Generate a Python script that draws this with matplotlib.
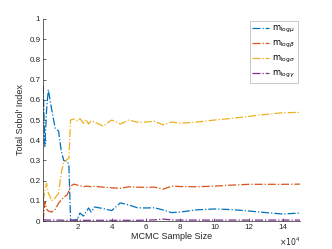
import matplotlib
matplotlib.use('Agg')
import matplotlib.pyplot as plt
from matplotlib.ticker import FuncFormatter

plt.rcParams['font.family'] = ['Liberation Sans', 'DejaVu Sans']

# sample sizes (in units of 1e4)
sample_size = [0, 0.1, 0.2, 0.3, 0.5, 0.7, 0.9, 1.05, 1.2, 1.4, 1.5, 1.6, 1.8, 2.0,
               2.15, 2.35, 2.5, 2.65, 2.8, 3.0, 3.5, 4.0, 4.5, 5.0, 5.5, 6.0, 6.5,
               7.0, 7.5, 8.0, 9.0, 10.0, 11.0, 12.0, 13.0, 14.0, 15.0]

m_log_mu = [0.67, 0.37, 0.55, 0.65, 0.55, 0.46, 0.445, 0.35, 0.30, 0.295, 0.28, 0.005,
            0.005, 0.01, 0.04, 0.025, 0.045, 0.065, 0.045, 0.07, 0.062, 0.052, 0.09,
            0.08, 0.066, 0.065, 0.066, 0.055, 0.042, 0.045, 0.056, 0.06, 0.057, 0.05,
            0.042, 0.035, 0.04]
m_log_beta = [0.0, 0.095, 0.06, 0.05, 0.045, 0.058, 0.088, 0.105, 0.118, 0.13, 0.15,
              0.173, 0.183, 0.178, 0.175, 0.17, 0.173, 0.172, 0.17, 0.172, 0.168, 0.165,
              0.162, 0.17, 0.168, 0.167, 0.168, 0.158, 0.173, 0.171, 0.17, 0.173, 0.178,
              0.182, 0.182, 0.182, 0.183]
m_log_sigma = [0.1, 0.15, 0.187, 0.14, 0.1, 0.115, 0.137, 0.236, 0.29, 0.305, 0.31, 0.5,
               0.505, 0.495, 0.507, 0.484, 0.503, 0.48, 0.497, 0.49, 0.47, 0.5, 0.48,
               0.5, 0.489, 0.49, 0.494, 0.476, 0.49, 0.484, 0.49, 0.5, 0.508, 0.518,
               0.528, 0.536, 0.538]
m_log_gamma = [0.008, 0.006, 0.005, 0.005, 0.005, 0.005, 0.005, 0.005, 0.004, 0.004,
               0.004, 0.004, 0.004, 0.004, 0.004, 0.004, 0.004, 0.004, 0.004, 0.004,
               0.004, 0.004, 0.004, 0.004, 0.004, 0.005, 0.006, 0.01, 0.006, 0.005,
               0.005, 0.005, 0.005, 0.005, 0.005, 0.005, 0.005]

labels = [r'$\mathrm{m}_{\mathrm{log}\mu}$', r'$\mathrm{m}_{\mathrm{log}\beta}$',
          r'$\mathrm{m}_{\mathrm{log}\sigma}$', r'$\mathrm{m}_{\mathrm{log}\gamma}$']
colors = ['#0072BD', '#D95319', '#EDB120', '#7E2F8E']

x = [s * 1e4 for s in sample_size]

fig = plt.figure(figsize=(3.32, 2.49), dpi=100)
ax = fig.add_axes([0.13, 0.112, 0.774, 0.812])

for y, lab, c in zip([m_log_mu, m_log_beta, m_log_sigma, m_log_gamma], labels, colors):
    ax.plot(x, y, linestyle='-.', color=c, lw=0.9, label=lab)

ax.set_xlim(0, 15e4)
ax.set_ylim(0, 1)
ax.set_xticks([2e4, 4e4, 6e4, 8e4, 10e4, 12e4, 14e4])
ax.xaxis.set_major_formatter(FuncFormatter(lambda v, p: '%g' % (v / 1e4)))
ax.set_yticks([i / 10 for i in range(11)])
ax.yaxis.set_major_formatter(FuncFormatter(lambda v, p: '%g' % v))

for s in ['top', 'right']:
    ax.spines[s].set_visible(False)
for s in ['left', 'bottom']:
    ax.spines[s].set_color('#262626')
    ax.spines[s].set_linewidth(0.5)
ax.tick_params(direction='in', length=2.5, width=0.5, labelsize=5.8,
               colors='#262626', labelcolor='#262626', pad=2)

ax.set_xlabel('MCMC Sample Size', fontsize=6.5, color='#262626', labelpad=1)
ax.set_ylabel("Total Sobol' Index", fontsize=6.5, color='#262626', labelpad=3)
ax.text(1.0, -0.07, r'$\times10^4$', transform=ax.transAxes, fontsize=5.6,
        color='#262626', ha='right', va='top')

leg = ax.legend(loc='upper right', fontsize=6, frameon=True, fancybox=False,
                handlelength=2.0, handletextpad=0.3, borderaxespad=0.3,
                labelspacing=0.45, borderpad=0.35)
leg.get_frame().set_edgecolor('#a0a0a0')
leg.get_frame().set_linewidth(0.5)

fig.savefig('out.png', dpi=100)
